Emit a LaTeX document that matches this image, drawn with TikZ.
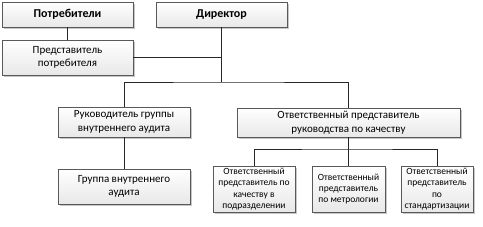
\documentclass[tikz,border=0pt]{standalone}
\usepackage{fontspec}
\setmainfont{Carlito}
\usetikzlibrary{shadows}
\begin{document}
\begin{tikzpicture}[x=1pt, y=-1pt,
  box/.style={draw=gray!70!black, line width=0.7pt, top color=white, bottom color=gray!18,
    drop shadow={shadow xshift=1.6pt, shadow yshift=-1.6pt, fill=gray!55, opacity=0.8},
    align=center, inner sep=1pt},
  headbox/.style={box, font=\fontsize{12}{14}\selectfont\bfseries},
  midbox/.style={box, font=\fontsize{11}{13.7}\selectfont},
  smallbox/.style={box, font=\fontsize{9.5}{11.2}\selectfont},
  link/.style={draw=black!85, line width=0.7pt}]
  \useasboundingbox (0,0) rectangle (483,227);
  \node[headbox, minimum width=131pt, minimum height=25pt] (potr) at (67.5,14.5) {Потребители};
  \node[headbox, minimum width=131pt, minimum height=25pt] (dir) at (221.5,14.5) {Директор};
  \node[midbox, minimum width=131pt, minimum height=35pt] (predp) at (67.5,57.5) {Представитель\\потребителя};
  \node[midbox, minimum width=132pt, minimum height=30pt] (ruk) at (124,122) {Руководитель группы\\внутреннего аудита};
  \node[midbox, minimum width=132pt, minimum height=35pt] (grp) at (124,186.5) {Группа внутреннего\\аудита};
  \node[midbox, minimum width=223pt, minimum height=29pt] (orp) at (348.5,122.5) {Ответственный представитель\\руководства по качеству};
  \node[smallbox, minimum width=82pt, minimum height=46pt] (otv1) at (254,189) {Ответственный\\представитель по\\качеству в\\подразделении};
  \node[smallbox, minimum width=73pt, minimum height=46pt] (otv2) at (348.5,189) {Ответственный\\представитель\\по метрологии};
  \node[smallbox, minimum width=72pt, minimum height=46pt] (otv3) at (437,189) {Ответственный\\представитель\\по\\стандартизации};
  % junctions
  \coordinate (j1) at (221.5,82);
  \coordinate (j2) at (348.5,149);
  \draw[link] (potr) -- (predp);
  \draw[link] (predp.east) -- (predp.east -| dir);
  \draw[link] (dir) -- (j1);
  \draw[link] (ruk.north) |- (j1) -| (orp.north);
  \draw[link] (ruk) -- (grp);
  \draw[link] (orp) -- (j2);
  \draw[link] (otv1.north) |- (j2) -| (otv3.north);
  \draw[link] (j2) -- (otv2);
\end{tikzpicture}
\end{document}
